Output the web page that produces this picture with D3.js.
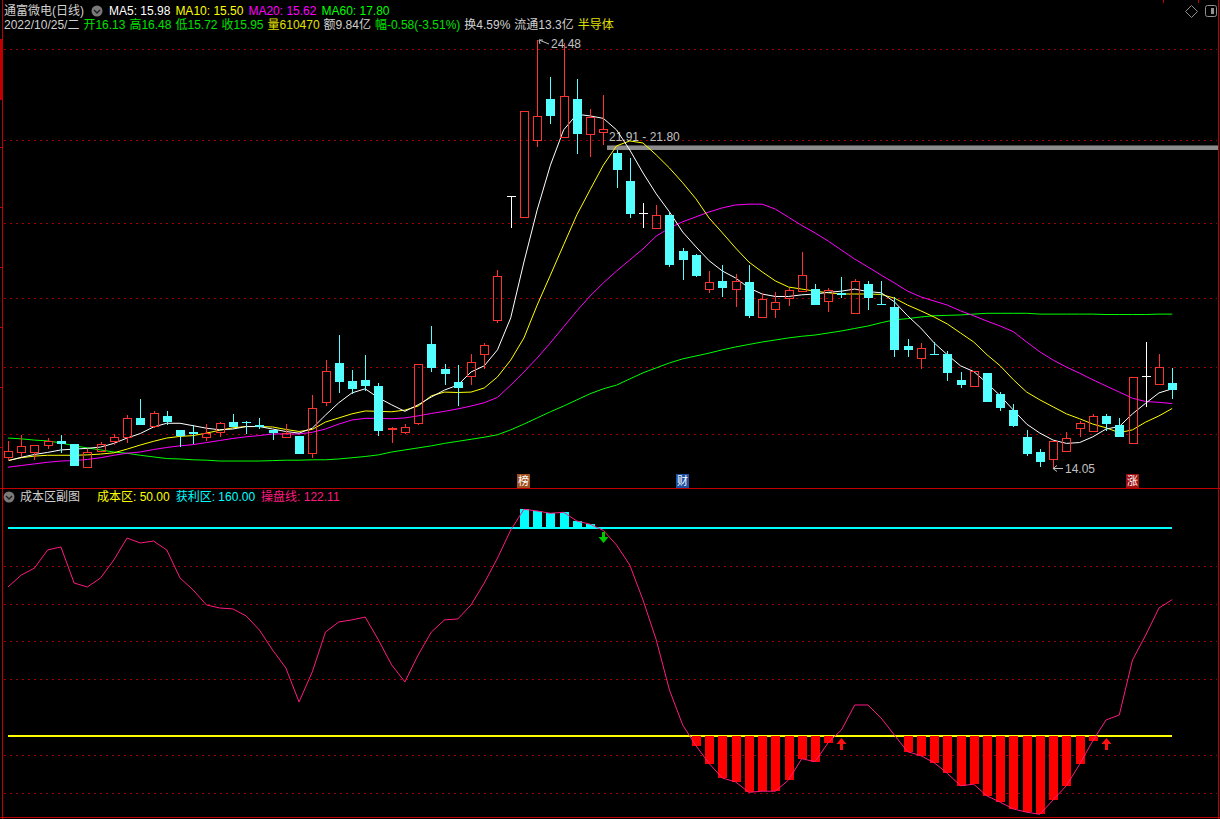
<!DOCTYPE html>
<html><head><meta charset="utf-8">
<script src="https://cdn.jsdelivr.net/npm/d3@7"></script>
<style>
html,body{margin:0;padding:0;background:#000;overflow:hidden}
svg{display:block}
text{font-family:"Liberation Sans","Noto Sans CJK SC",sans-serif;font-size:12px}
</style></head><body>
<svg id="c" width="1220" height="819"></svg>
<script>
// ---- DATA ----
const opens =[14.33,14.45,14.45,14.60,14.72,14.63,14.08,14.47,14.72,14.80,15.27,15.08,15.32,14.98,14.93,14.80,14.92,15.16,15.18,15.10,14.98,14.81,14.83,14.42,15.67,16.61,16.17,16.20,16.05,14.99,14.93,15.14,17.07,16.46,16.14,16.30,16.82,17.66,20.68,20.16,22.04,23.04,22.11,23.04,22.18,22.23,21.72,21.04,20.26,19.91,20.22,19.34,19.24,18.40,18.61,18.40,18.58,17.74,17.92,18.20,18.37,18.41,18.11,18.32,17.83,18.53,18.04,17.98,17.02,16.74,16.84,16.83,16.19,16.06,16.36,15.85,15.46,14.81,14.43,14.26,14.47,15.02,14.96,15.32,15.09,14.67,16.29,16.09,16.13];
const highs =[14.71,14.85,14.61,14.77,14.85,14.63,14.51,14.68,14.87,15.34,15.73,15.44,15.44,14.98,15.10,15.12,15.18,15.37,15.20,15.26,14.98,15.12,14.83,15.83,16.68,17.29,16.44,16.80,16.11,15.06,15.12,16.58,17.50,16.58,16.56,16.84,17.09,18.88,20.68,22.75,24.48,23.57,24.40,23.53,22.80,23.14,21.80,21.61,20.51,20.46,20.30,19.40,19.26,18.85,19.00,18.77,19.00,18.31,18.33,18.44,19.31,18.53,18.43,18.70,18.66,18.61,18.61,18.22,17.19,17.09,17.11,16.90,16.38,16.41,16.36,15.89,15.61,14.98,14.51,14.72,14.93,15.20,15.37,15.36,15.28,16.27,17.13,16.84,16.48];
const lows  =[14.21,14.32,14.24,14.51,14.42,14.11,14.08,14.47,14.60,14.65,15.10,15.02,15.11,14.57,14.64,14.72,14.80,15.06,14.87,14.99,14.73,14.81,14.39,14.29,15.56,15.87,15.85,15.93,14.84,14.67,14.87,15.10,16.40,16.07,15.56,16.07,16.46,17.58,19.90,20.16,21.87,22.43,22.11,21.71,21.62,21.91,20.87,20.15,19.90,19.91,18.96,18.63,18.70,18.32,18.22,17.98,17.70,17.74,17.71,18.00,18.37,18.02,17.84,18.20,17.80,17.90,18.02,16.76,16.76,16.46,16.82,16.17,16.01,16.06,15.67,15.45,15.06,14.34,14.07,14.05,14.47,14.81,14.96,14.96,14.81,14.66,15.54,16.09,15.72];
const closes=[14.47,14.59,14.61,14.72,14.63,14.11,14.45,14.63,14.80,15.26,15.11,15.38,15.18,14.83,14.88,14.91,15.14,15.06,15.16,15.06,14.91,14.91,14.39,15.50,16.41,16.15,15.98,16.06,14.94,15.02,15.06,16.58,16.49,16.33,16.01,16.63,17.04,18.73,20.68,22.75,22.62,22.64,23.12,22.20,22.60,22.31,21.30,20.23,20.26,20.22,19.00,19.12,18.73,18.59,18.44,18.61,17.76,18.18,18.09,18.38,18.75,18.02,18.39,18.27,18.61,18.20,18.02,16.92,16.92,16.97,16.82,16.37,16.07,16.41,15.67,15.52,15.07,14.39,14.20,14.72,14.77,15.14,15.32,15.12,14.81,16.27,16.29,16.52,15.95];
const ma5 =[14.23,14.31,14.38,14.43,14.49,14.51,14.53,14.56,14.65,14.78,14.89,15.05,15.14,15.14,15.08,15.02,14.98,15.00,15.06,15.06,15.00,14.94,14.90,15.02,15.34,15.64,15.88,15.98,15.76,15.59,15.43,15.59,15.78,15.95,16.07,16.39,16.54,16.93,17.71,19.07,20.34,21.43,22.29,22.67,22.63,22.57,22.29,21.80,21.24,20.73,20.29,19.80,19.44,19.10,18.85,18.68,18.44,18.29,18.23,18.23,18.27,18.29,18.33,18.36,18.41,18.35,18.32,18.10,17.76,17.46,17.10,16.81,16.54,16.40,16.12,15.81,15.46,15.12,14.90,14.73,14.65,14.67,14.81,15.00,15.06,15.37,15.63,15.88,15.98];
const ma10=[14.23,14.30,14.34,14.36,14.36,14.36,14.37,14.39,14.42,14.51,14.61,14.70,14.78,14.82,14.84,14.90,14.97,15.03,15.06,15.06,15.05,14.99,14.94,14.99,15.17,15.27,15.37,15.44,15.43,15.42,15.46,15.56,15.81,15.90,15.89,15.90,16.00,16.27,16.68,17.22,18.02,18.75,19.49,20.22,20.83,21.43,21.90,22.02,21.97,21.68,21.36,21.00,20.61,20.14,19.78,19.41,19.07,18.83,18.61,18.46,18.41,18.36,18.32,18.29,18.29,18.29,18.28,18.19,18.02,17.88,17.73,17.56,17.34,17.12,16.81,16.54,16.20,15.90,15.71,15.54,15.37,15.25,15.12,15.03,14.91,14.98,15.17,15.32,15.50];
const ma20=[14.07,14.11,14.15,14.19,14.22,14.23,14.26,14.30,14.36,14.41,14.44,14.50,14.55,14.59,14.62,14.67,14.72,14.77,14.81,14.84,14.88,14.88,14.88,14.92,15.00,15.12,15.22,15.26,15.26,15.25,15.27,15.32,15.38,15.43,15.49,15.56,15.64,15.77,16.07,16.39,16.73,17.10,17.49,17.88,18.24,18.56,18.85,19.12,19.39,19.70,19.90,20.05,20.17,20.29,20.39,20.46,20.48,20.48,20.36,20.16,19.96,19.78,19.58,19.36,19.14,18.95,18.75,18.56,18.36,18.22,18.12,18.02,17.88,17.76,17.63,17.51,17.37,17.12,16.88,16.68,16.51,16.36,16.20,16.05,15.90,15.75,15.67,15.65,15.62];
const ma60=[14.78,14.76,14.73,14.71,14.66,14.59,14.54,14.49,14.44,14.41,14.36,14.32,14.28,14.27,14.25,14.24,14.22,14.22,14.22,14.22,14.23,14.24,14.24,14.25,14.25,14.27,14.30,14.33,14.37,14.44,14.49,14.54,14.59,14.65,14.70,14.75,14.80,14.86,14.98,15.12,15.27,15.42,15.56,15.71,15.86,15.98,16.07,16.22,16.37,16.49,16.61,16.71,16.78,16.85,16.93,17.00,17.06,17.12,17.17,17.22,17.26,17.29,17.34,17.39,17.45,17.51,17.59,17.66,17.69,17.73,17.76,17.77,17.78,17.80,17.82,17.82,17.82,17.82,17.80,17.80,17.80,17.80,17.80,17.79,17.79,17.79,17.79,17.80,17.80];
const costLine=[128.8,135.1,138.8,148.4,150.0,130.9,128.8,133.6,143.1,154.7,152.1,153.1,148.4,133.6,127.2,119.3,117.7,117.2,113.5,106.1,95.5,86.0,68.0,83.9,105.0,110.3,111.4,112.9,100.8,87.6,78.6,92.8,105.0,111.4,111.9,119.3,130.9,144.1,158.9,169.9,169.0,167.8,168.3,163.7,162.0,158.7,151.0,140.4,121.9,100.8,74.3,55.8,44.9,35.4,27.8,25.7,20.2,20.8,20.8,26.7,38.0,36.4,46.5,53.2,66.4,66.4,59.5,50.5,41.7,39.6,35.9,30.3,23.7,24.5,18.3,15.0,11.4,9.7,8.6,16.2,23.7,35.0,47.5,58.5,61.1,90.2,103.4,117.7,122.11];
const costLevel=50, profitLevel=160;
const priceGrid=[24.26,22.04,20.02,18.19,16.51,14.88];
const priceTicks=[21.87,20.41,18.95,17.49,16.03,14.56];
const subGrid=[140,120,100,80,40,20];
const downSignals=[45], upSignals=[63,83];
const gapTop=21.91, gapBottom=21.80, gapStart=45;
const hiIdx=40, loIdx=79;
const flags=[{i:39,t:"榜",bg:"#a05020"},{i:51,t:"财",bg:"#2050a0"},{i:85,t:"涨",bg:"#a01010"}];
const header1=[{t:"MA5: 15.98",c:"#ffffff"},{t:"MA10: 15.50",c:"#ffff00"},{t:"MA20: 15.62",c:"#ff00ff"},{t:"MA60: 17.80",c:"#00ff00"}];
const header2=[{t:"2022/10/25/二",c:"#d0d0d0"},{t:"开16.13",c:"#00e000"},{t:"高16.48",c:"#00e000"},{t:"低15.72",c:"#00e000"},{t:"收15.95",c:"#00e000"},{t:"量610470",c:"#e0e000"},{t:"额9.84亿",c:"#d0d0d0"},{t:"幅-0.58(-3.51%)",c:"#00e000"},{t:"换4.59%",c:"#d0d0d0"},{t:"流通13.3亿",c:"#d0d0d0"},{t:"半导体",c:"#e0e000"}];
const subHeader=[{t:"成本区: 50.00",c:"#ffff00"},{t:"获利区: 160.00",c:"#00ffff"},{t:"操盘线: 122.11",c:"#ff1a80"}];

// ---- SCALES ----
const N=closes.length;
const svg=d3.select("#c");
const x=d3.scaleLinear().domain([0,N-1]).range([8,1172.2]);
const y=d3.scaleLinear().domain([14.05,24.48]).range([468,40]);
const ys=d3.scaleLinear().domain([costLevel,profitLevel]).range([736,528]);
const cx=i=>Math.round(x(i));
const BORDER="#c00000";
svg.append("rect").attr("width",1220).attr("height",819).attr("fill","#000");

// grid lines
const gridStyle=s=>s.attr("stroke","#a00000").attr("stroke-width",1).attr("stroke-dasharray","2,4").attr("shape-rendering","crispEdges");
priceGrid.forEach(p=>{const yy=Math.round(y(p))+0.5;gridStyle(svg.append("line").attr("x1",4).attr("x2",1217).attr("y1",yy).attr("y2",yy));});
subGrid.forEach(v=>{const yy=Math.round(ys(v))+0.5;gridStyle(svg.append("line").attr("x1",4).attr("x2",1217).attr("y1",yy).attr("y2",yy));});

// borders
const bl=(x1,y1,x2,y2,w)=>svg.append("line").attr("x1",x1).attr("y1",y1).attr("x2",x2).attr("y2",y2).attr("stroke",BORDER).attr("stroke-width",w||1).attr("shape-rendering","crispEdges");
bl(2.5,0,2.5,819); bl(1218.5,0,1218.5,819); bl(0,488.5,1220,488.5); bl(0,817.5,1220,817.5);
svg.append("rect").attr("x",0).attr("y",39).attr("width",3).attr("height",61).attr("fill",BORDER);
priceTicks.forEach(p=>{const yy=Math.round(y(p))+0.5;bl(0,yy,3,yy);});
[1163,1198].forEach(xx=>bl(xx+0.5,0,xx+0.5,3));

// gap band
svg.append("rect").attr("x",cx(gapStart)+4).attr("y",y(gapTop)).attr("width",1218-cx(gapStart)-4).attr("height",y(gapBottom)-y(gapTop)).attr("fill","#8c8c8c");
svg.append("text").attr("x",cx(gapStart)+6).attr("y",141).attr("fill","#c0c0c0").text(gapTop.toFixed(2)+" - "+gapBottom.toFixed(2));

// MA lines
const ln=arr=>d3.line().x((d,i)=>x(i)).y(d=>y(d))(arr);
[[ma60,"#00ff00"],[ma20,"#ff00ff"],[ma10,"#ffff00"],[ma5,"#ffffff"]].forEach(([a,c])=>{
  svg.append("path").attr("d",ln(a)).attr("fill","none").attr("stroke",c).attr("stroke-width",1);
});

// candles
const g=svg.append("g").attr("shape-rendering","crispEdges");
for(let i=0;i<N;i++){
  const o=opens[i],c=closes[i],h=highs[i],l=lows[i],X=cx(i);
  const top=Math.round(y(Math.max(o,c))),bot=Math.round(y(Math.min(o,c)));
  if(c>o){
    g.append("line").attr("x1",X+0.5).attr("x2",X+0.5).attr("y1",y(h)).attr("y2",top).attr("stroke","#ff3232");
    g.append("line").attr("x1",X+0.5).attr("x2",X+0.5).attr("y1",bot).attr("y2",y(l)).attr("stroke","#ff3232");
    g.append("rect").attr("x",X-4+0.5).attr("y",top+0.5).attr("width",8).attr("height",Math.max(1,bot-top)).attr("fill","none").attr("stroke","#ff3232");
  }else if(c<o){
    g.append("line").attr("x1",X+0.5).attr("x2",X+0.5).attr("y1",y(h)).attr("y2",y(l)).attr("stroke","#54ffff");
    g.append("rect").attr("x",X-4).attr("y",top).attr("width",9).attr("height",Math.max(1,bot-top)).attr("fill","#54ffff");
  }else{
    g.append("line").attr("x1",X+0.5).attr("x2",X+0.5).attr("y1",y(h)).attr("y2",y(l)).attr("stroke","#ffffff");
    g.append("line").attr("x1",X-4).attr("x2",X+5).attr("y1",top+0.5).attr("y2",top+0.5).attr("stroke","#ffffff");
  }
}

// high / low labels
const hy=y(highs[hiIdx]);
svg.append("path").attr("d",`M${cx(hiIdx)+2},${hy} L${cx(hiIdx)+12},${hy+4} M${cx(hiIdx)+2},${hy} l4,0 M${cx(hiIdx)+2},${hy} l1,4`).attr("stroke","#c0c0c0").attr("fill","none");
svg.append("text").attr("x",cx(hiIdx)+14).attr("y",hy+8).attr("fill","#c0c0c0").text(highs[hiIdx].toFixed(2));
const ly=y(lows[loIdx]);
svg.append("path").attr("d",`M${cx(loIdx)},${ly+0.5} l10,0 M${cx(loIdx)},${ly+0.5} l4,-3 M${cx(loIdx)},${ly+0.5} l4,3`).attr("stroke","#c0c0c0").attr("fill","none");
svg.append("text").attr("x",cx(loIdx)+12).attr("y",ly+5).attr("fill","#c0c0c0").text(lows[loIdx].toFixed(2));

// flags
flags.forEach(f=>{
  const X=cx(f.i);
  svg.append("rect").attr("x",X-7).attr("y",474).attr("width",13).attr("height",14).attr("fill",f.bg);
  svg.append("text").attr("x",X-0.5).attr("y",485).attr("text-anchor","middle").attr("fill","#ffffff").style("font-size","11px").text(f.t);
});

// sub chart
svg.append("line").attr("x1",8).attr("x2",1172).attr("y1",ys(profitLevel)).attr("y2",ys(profitLevel)).attr("stroke","#00ffff").attr("stroke-width",2);
svg.append("line").attr("x1",8).attr("x2",1172).attr("y1",ys(costLevel)).attr("y2",ys(costLevel)).attr("stroke","#ffff00").attr("stroke-width",2);
const sb=svg.append("g").attr("shape-rendering","crispEdges");
costLine.forEach((v,i)=>{
  const X=cx(i);
  if(v>profitLevel) sb.append("rect").attr("x",X-4).attr("y",ys(v)).attr("width",9).attr("height",ys(profitLevel)-ys(v)).attr("fill","#00ffff");
  if(v<costLevel) sb.append("rect").attr("x",X-4).attr("y",ys(costLevel)).attr("width",9).attr("height",ys(v)-ys(costLevel)).attr("fill","#ff0000");
});
svg.append("path").attr("d",d3.line().x((d,i)=>x(i)).y(d=>ys(d))(costLine)).attr("fill","none").attr("stroke","#ff1a80").attr("stroke-width",1);
downSignals.forEach(i=>{const X=cx(i)+0.5,t=ys(profitLevel)+4;
  svg.append("path").attr("d",`M${X-1.5},${t} h3 v5 h3.5 l-5,6 l-5,-6 h3.5 z`).attr("fill","#00c800");});
upSignals.forEach(i=>{const X=cx(i)+0.5,t=ys(costLevel)+2;
  svg.append("path").attr("d",`M${X},${t} l5,6 h-3.5 v6 h-3 v-6 h-3.5 z`).attr("fill","#ff1010");});

// header
const icon=(X,Y)=>{svg.append("circle").attr("cx",X).attr("cy",Y).attr("r",5.5).attr("fill","#7a7a7a");
  svg.append("path").attr("d",`M${X-3},${Y-1} l3,3 l3,-3`).attr("stroke","#222").attr("stroke-width",1.5).attr("fill","none");};
svg.append("text").attr("x",4).attr("y",15).attr("fill","#d0d0d0").text("通富微电(日线)");
icon(97,11);
let hx=109;
header1.forEach(h=>{const t=svg.append("text").attr("x",hx).attr("y",15).attr("fill",h.c).text(h.t);hx+=t.node().getComputedTextLength()+5;});
hx=4;
header2.forEach(h=>{const t=svg.append("text").attr("x",hx).attr("y",29).attr("fill",h.c).text(h.t);hx+=t.node().getComputedTextLength()+4;});
icon(9,497);
svg.append("text").attr("x",20).attr("y",501).attr("fill","#d0d0d0").text("成本区副图");
hx=97;
subHeader.forEach(h=>{const t=svg.append("text").attr("x",hx).attr("y",501).attr("fill",h.c).text(h.t);hx+=t.node().getComputedTextLength()+6;});
// right icons
svg.append("path").attr("d","M1191.5,5.5 l6,6 l-6,6 l-6,-6 z").attr("fill","none").attr("stroke","#909090");
svg.append("rect").attr("x",1205.5).attr("y",5.5).attr("width",11).attr("height",11).attr("rx",2).attr("fill","none").attr("stroke","#909090");
svg.append("rect").attr("x",1211).attr("y",8).attr("width",3).attr("height",6).attr("fill","#909090");
</script></body></html>
